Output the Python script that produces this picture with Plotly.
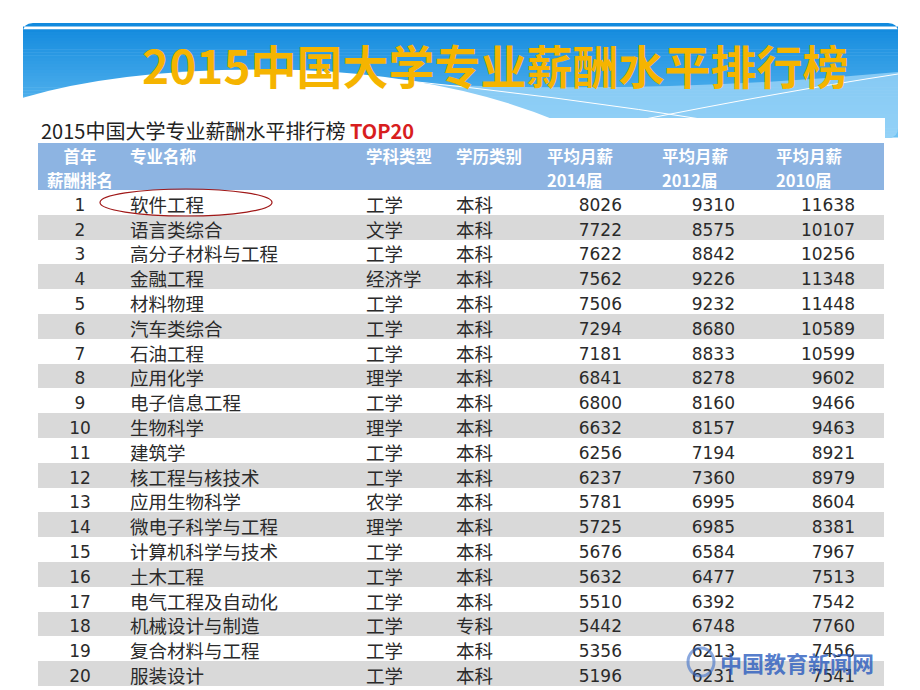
import plotly.graph_objects as go

# ---------------- data ----------------
title = "2015中国大学专业薪酬水平排行榜"
subtitle = "2015中国大学专业薪酬水平排行榜"
subtitle_tag = "TOP20"

ranks = list(range(1, 21))
majors = ["软件工程", "语言类综合", "高分子材料与工程", "金融工程", "材料物理",
          "汽车类综合", "石油工程", "应用化学", "电子信息工程", "生物科学",
          "建筑学", "核工程与核技术", "应用生物科学", "微电子科学与工程", "计算机科学与技术",
          "土木工程", "电气工程及自动化", "机械设计与制造", "复合材料与工程", "服装设计"]
disciplines = ["工学", "文学", "工学", "经济学", "工学", "工学", "工学", "理学", "工学", "理学",
               "工学", "工学", "农学", "理学", "工学", "工学", "工学", "工学", "工学", "工学"]
degrees = ["本科"] * 17 + ["专科", "本科", "本科"]
salary_2014 = [8026, 7722, 7622, 7562, 7506, 7294, 7181, 6841, 6800, 6632,
               6256, 6237, 5781, 5725, 5676, 5632, 5510, 5442, 5356, 5196]
salary_2012 = [9310, 8575, 8842, 9226, 9232, 8680, 8833, 8278, 8160, 8157,
               7194, 7360, 6995, 6985, 6584, 6477, 6392, 6748, 6213, 6231]
salary_2010 = [11638, 10107, 10256, 11348, 11448, 10589, 10599, 9602, 9466, 9463,
               8921, 8979, 8604, 8381, 7967, 7513, 7542, 7760, 7456, 7541]
# two header lines per column
header_line1 = ["首年", "专业名称", "学科类型", "学历类别", "平均月薪", "", "平均月薪", "", "平均月薪", ""]
header_line2 = ["薪酬排名", "", "", "", "2014届", "", "2012届", "", "2010届", ""]
watermark = "中国教育新闻网"

# ---------------- figure ----------------
W, H = 920, 690
OFF = 8  # page body margin of the html page
FW, FH = W - OFF, H - OFF
CJK = "Noto Sans CJK SC"
NUM = "DejaVu Sans, Noto Sans CJK SC"
fig = go.Figure()

def px_x(p):
    return (p - OFF) / FW

def px_y(p):
    return 1 - (p - OFF) / FH

n = len(ranks)
row_colors = ["#ffffff" if i % 2 == 0 else "#d9d9d9" for i in range(n)]
blank = [""] * n
columns = [ranks, majors, disciplines, degrees, salary_2014, blank, salary_2012, blank, salary_2010, blank]
widths = [84, 236, 90, 91, 91, 24, 89, 25, 95, 21]
hdr_vals = [[a, b] for a, b in zip(header_line1, header_line2)]
cell_fam = [NUM, CJK, CJK, CJK, NUM, NUM, NUM, NUM, NUM, NUM]
cell_size = [17, 18.5, 18.5, 18.5, 17, 17, 17, 17, 17, 17]

fig.add_trace(go.Table(
    domain=dict(x=[px_x(38), px_x(884)], y=[0, px_y(143)]),
    columnwidth=widths,
    header=dict(
        values=hdr_vals,
        fill=dict(color="#8db4e2"),
        line=dict(color="#8db4e2", width=0),
        align=["center", "left", "left", "left", "left", "left", "left", "left", "left", "left"],
        font=dict(family=CJK, size=16.5, color="white", weight="bold"),
        height=23.5,
    ),
    cells=dict(
        values=columns,
        fill=dict(color=[row_colors] * len(columns)),
        line=dict(color=[row_colors] * len(columns), width=0),
        align=["center", "left", "left", "left", "right", "right", "right", "right", "right", "right"],
        font=dict(family=cell_fam, size=cell_size, color="#2a2a2a"),
        height=24.8,
    ),
))

shapes = []
# blue banner gradient
top, bot = 23, 140
nb = 40
c0 = (18, 138, 222)
c1 = (110, 195, 244)
for i in range(nb):
    y0 = top + (bot - top) * i / nb
    y1 = top + (bot - top) * (i + 1) / nb + 0.5
    t = i / (nb - 1)
    col = "rgb(%d,%d,%d)" % tuple(int(c0[k] + (c1[k] - c0[k]) * t) for k in range(3))
    if i == 0:
        shapes.append(dict(type="path", path="M 23,%f L 23,33 Q 23,23 33,23 L 888,23 Q 898,23 898,33 L 898,%f Z" % (y1, y1),
                           fillcolor=col, line=dict(width=0), layer="below"))
    elif i < 4:
        shapes.append(dict(type="rect", x0=23, x1=898, y0=max(y0, 32), y1=y1, fillcolor=col, line=dict(width=0), layer="below"))
    elif i == nb - 1:
        shapes.append(dict(type="path", path="M 23,%f L 898,%f L 898,128 Q 898,136 890,138 L 23,141 Z" % (y0, y0),
                           fillcolor=col, line=dict(width=0), layer="below"))
    else:
        shapes.append(dict(type="rect", x0=23, x1=898, y0=y0, y1=y1, fillcolor=col, line=dict(width=0), layer="below"))
# lighter band on the right
shapes.append(dict(type="path", path="M 360,80 Q 620,98 898,72 L 898,128 Q 898,136 890,138 L 360,140 Z",
                   fillcolor="rgba(160,215,248,0.75)", line=dict(width=0), layer="below"))
# white wave
shapes.append(dict(type="path", path="M 22,98 Q 130,66 300,70 Q 450,76 560,122 L 560,142 L 22,142 Z",
                   fillcolor="white", line=dict(width=0), layer="below"))
# thin white lines
shapes.append(dict(type="path", path="M 380,78 Q 560,96 720,122", line=dict(color="white", width=1)))
shapes.append(dict(type="path", path="M 630,122 Q 780,92 898,74", line=dict(color="white", width=1)))
# table background
shapes.append(dict(type="rect", x0=30, x1=885, y0=118, y1=690, fillcolor="white", line=dict(width=0), layer="below"))
# red ellipse around first row
shapes.append(dict(type="circle", x0=100, x1=272, y0=189, y1=216, line=dict(color="#a01818", width=1.2)))
# small watermark logo swirl
shapes.append(dict(type="circle", x0=688, x1=714, y0=648, y1=676, line=dict(color="rgba(60,110,200,0.6)", width=3)))
for s in shapes:
    s["xref"] = "x"
    s["yref"] = "y"

annotations = [
    dict(x=495, y=64, text="<b>%s</b>" % title, showarrow=False,
         font=dict(family=CJK, size=46, color="#f5b400"), xanchor="center", yanchor="middle"),
    dict(x=39, y=130, text="%s <b><span style='color:#d81e1e'>%s</span></b>" % (subtitle, subtitle_tag),
         showarrow=False, font=dict(family=CJK, size=20, color="#222222"), xanchor="left", yanchor="middle"),
    dict(x=718, y=662, text="<b>%s</b>" % watermark, showarrow=False,
         font=dict(family=CJK, size=22, color="rgba(40,90,190,0.8)"), xanchor="left", yanchor="middle"),
]
for a in annotations:
    a["xref"] = "x"
    a["yref"] = "y"

fig.update_layout(
    width=FW, height=FH,
    margin=dict(l=0, r=0, t=0, b=0),
    paper_bgcolor="white", plot_bgcolor="rgba(0,0,0,0)",
    xaxis=dict(range=[OFF, W], visible=False, fixedrange=True),
    yaxis=dict(range=[H, OFF], visible=False, fixedrange=True),
    shapes=shapes, annotations=annotations, showlegend=False,
)

fig.write_html("out.html")
